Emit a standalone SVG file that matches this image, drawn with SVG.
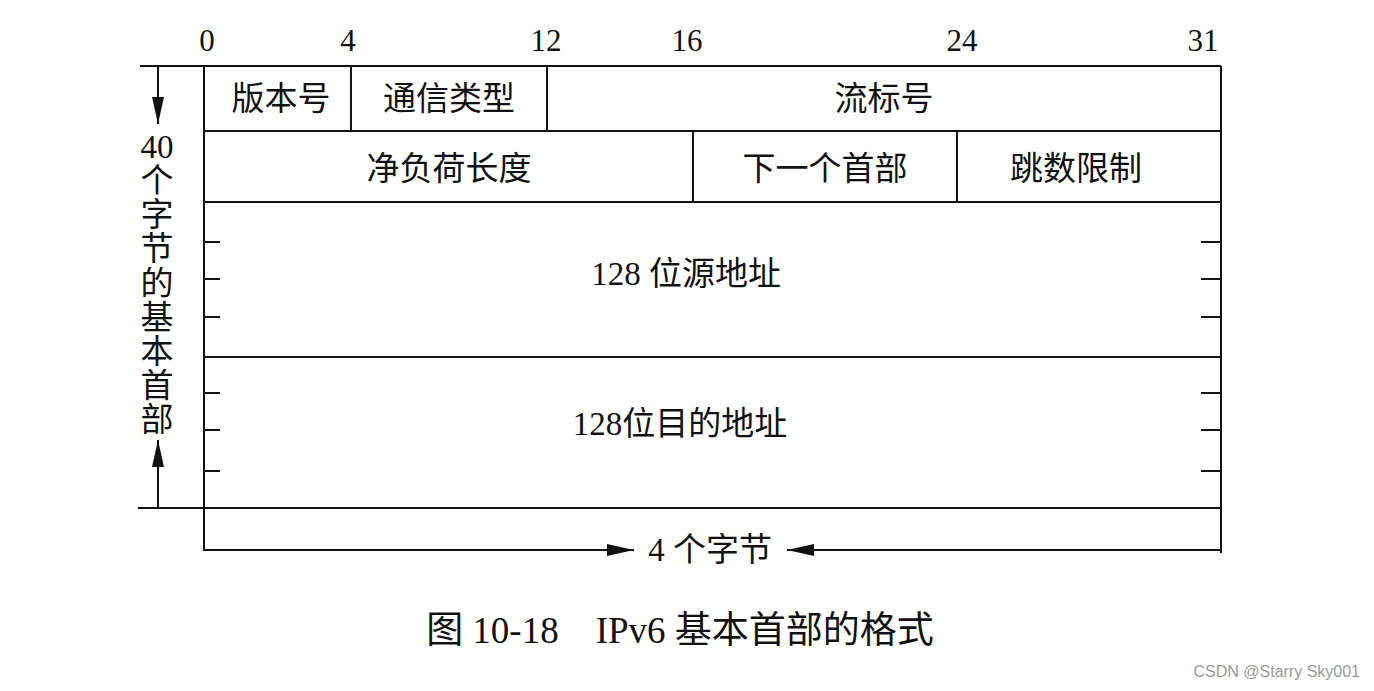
<svg xmlns="http://www.w3.org/2000/svg" width="1374" height="691" viewBox="0 0 1374 691">
<style>
.ln{stroke:#111;stroke-width:2;fill:none}
.t{font-family:"Liberation Serif","Noto Sans CJK SC",serif;fill:#111;text-anchor:middle}
.num{font-size:31px}
.lb{font-size:33px}
.cap{font-size:37px}
.wm{font-family:"Liberation Sans",Arial,sans-serif;font-size:16px;fill:#999;text-anchor:end}
</style>
<defs>
<marker id="ah" viewBox="0 0 27 12" refX="27" refY="6" markerWidth="27" markerHeight="12" markerUnits="userSpaceOnUse" orient="auto">
<path d="M0,0 L27,6 L0,12 Z" fill="#111"/>
</marker>
</defs>
<rect width="1374" height="691" fill="#fff"/>
<g id="scale">
<text class="t num" x="207" y="51">0</text>
<text class="t num" x="348" y="51">4</text>
<text class="t num" x="546" y="51">12</text>
<text class="t num" x="687" y="51">16</text>
<text class="t num" x="962" y="51">24</text>
<text class="t num" x="1203" y="51">31</text>
</g>
<g id="frame">
<line class="ln" x1="140" y1="66" x2="1221" y2="66"/>
<line class="ln" x1="204" y1="66" x2="204" y2="551"/>
<line class="ln" x1="1221" y1="66" x2="1221" y2="553"/>
<line class="ln" x1="204" y1="131" x2="1221" y2="131"/>
<line class="ln" x1="204" y1="202" x2="1221" y2="202"/>
<line class="ln" x1="204" y1="357" x2="1221" y2="357"/>
<line class="ln" x1="138" y1="508" x2="1221" y2="508"/>
<line class="ln" x1="351" y1="66" x2="351" y2="131"/>
<line class="ln" x1="547" y1="66" x2="547" y2="131"/>
<line class="ln" x1="693" y1="131" x2="693" y2="202"/>
<line class="ln" x1="957" y1="131" x2="957" y2="202"/>
<path class="ln" d="M204,242h16M204,279h16M204,317h16M204,393h16M204,430h16M204,471h16M1221,242h-20M1221,279h-20M1221,317h-20M1221,393h-20M1221,430h-20M1221,471h-20"/>
</g>
<g id="n-version"><text class="t lb" x="281" y="110">版本号</text></g>
<g id="n-class"><text class="t lb" x="449" y="110">通信类型</text></g>
<g id="n-flow"><text class="t lb" x="884" y="110">流标号</text></g>
<g id="n-payload"><text class="t lb" x="449" y="180">净负荷长度</text></g>
<g id="n-next"><text class="t lb" x="825" y="180">下一个首部</text></g>
<g id="n-hop"><text class="t lb" x="1076" y="180">跳数限制</text></g>
<g id="n-src"><text class="t lb" x="686" y="285">128 位源地址</text></g>
<g id="n-dst"><text class="t lb" x="680" y="435">128位目的地址</text></g>
<g id="n-side">
<text class="t lb" x="157" y="158">40</text>
<text class="t lb" x="157" y="192">个</text>
<text class="t lb" x="157" y="226">字</text>
<text class="t lb" x="157" y="260">节</text>
<text class="t lb" x="157" y="295">的</text>
<text class="t lb" x="157" y="329">基</text>
<text class="t lb" x="157" y="363">本</text>
<text class="t lb" x="157" y="397">首</text>
<text class="t lb" x="157" y="431">部</text>
</g>
<g id="n-width"><text class="t lb" x="710" y="561">4 个字节</text></g>
<g id="connectors">
<line class="ln" x1="158" y1="66" x2="158" y2="124" marker-end="url(#ah)"/>
<line class="ln" x1="158" y1="508" x2="158" y2="440" marker-end="url(#ah)"/>
<line class="ln" x1="204" y1="550" x2="634" y2="550" marker-end="url(#ah)"/>
<line class="ln" x1="1221" y1="550" x2="787" y2="550" marker-end="url(#ah)"/>
</g>
<g id="caption"><text class="t cap" x="680" y="643">图 10-18　IPv6 基本首部的格式</text></g>
<text class="wm" x="1360" y="677">CSDN @Starry Sky001</text>
</svg>
